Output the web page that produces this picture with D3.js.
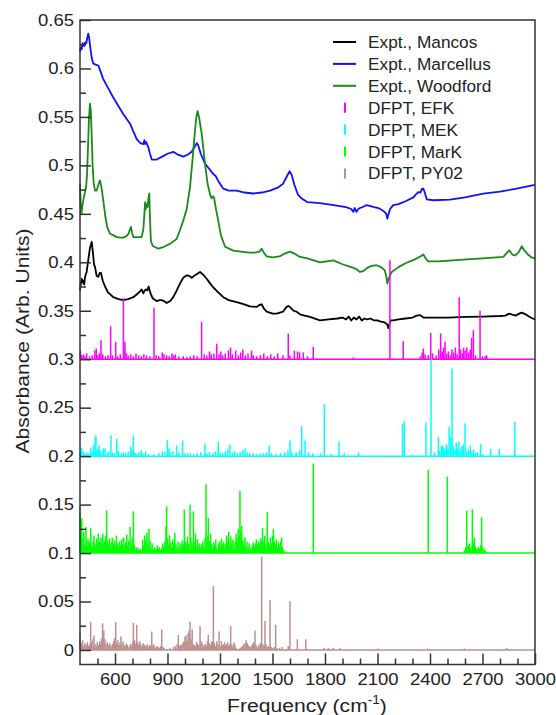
<!DOCTYPE html>
<html><head><meta charset="utf-8">
<script src="https://cdn.jsdelivr.net/npm/d3@7"></script>
<style>body{margin:0;background:#fff}svg{display:block;font-family:"Liberation Sans",Arial,sans-serif}</style>
</head><body><svg id="c" width="556" height="715"></svg>
<script>
// ---- data ----
const xTicks = [600, 900, 1200, 1500, 1800, 2100, 2400, 2700, 3000];
const xMinor = [500, 700, 800, 1000, 1100, 1300, 1400, 1600, 1700, 1900, 2000, 2200, 2300, 2500, 2600, 2800, 2900];
const yTicks = [0, 0.05, 0.1, 0.15, 0.2, 0.25, 0.3, 0.35, 0.4, 0.45, 0.5, 0.55, 0.6, 0.65];
const yTickLabels = ["0", "0.05", "0.1", "0.15", "0.2", "0.25", "0.3", "0.35", "0.4", "0.45", "0.5", "0.55", "0.6", "0.65"];
const yMinor = [0.025, 0.075, 0.125, 0.175, 0.225, 0.275, 0.325, 0.375, 0.425, 0.475, 0.525, 0.575, 0.625];

const seriesNames = ["Expt., Mancos", "Expt., Marcellus", "Expt., Woodford", "DFPT, EFK", "DFPT, MEK", "DFPT, MarK", "DFPT, PY02"];
const stickBaselines = [0.3, 0.2, 0.1, 0];

const mancos = [[400,0.371],[405,0.378],[410,0.383],[415,0.379],[419,0.381],[424,0.377],[429,0.385],[438,0.39],[447,0.402],[457,0.415],[467,0.421],[474,0.41],[480,0.398],[486,0.395],[495,0.386],[505,0.385],[512,0.389],[520,0.389],[530,0.381],[543,0.375],[560,0.369],[590,0.364],[620,0.362],[647,0.361],[675,0.362],[705,0.364],[725,0.367],[743,0.370],[752,0.372],[762,0.368],[770,0.371],[777,0.372],[785,0.371],[792,0.375],[797,0.372],[803,0.368],[815,0.363],[838,0.360],[855,0.361],[867,0.361],[880,0.36],[895,0.358],[915,0.36],[933,0.364],[950,0.37],[971,0.378],[990,0.384],[1010,0.3866],[1025,0.386],[1038,0.384],[1060,0.387],[1086,0.390],[1105,0.387],[1124,0.383],[1140,0.379],[1162,0.374],[1190,0.369],[1219,0.364],[1250,0.361],[1295,0.359],[1330,0.357],[1371,0.3546],[1410,0.354],[1425,0.356],[1438,0.3567],[1452,0.352],[1467,0.349],[1500,0.347],[1524,0.347],[1560,0.349],[1580,0.354],[1592,0.355],[1605,0.353],[1620,0.350],[1638,0.349],[1660,0.346],[1714,0.3436],[1771,0.340],[1820,0.341],[1870,0.342],[1900,0.343],[1920,0.341],[1935,0.344],[1950,0.340],[1965,0.343],[1980,0.341],[1995,0.344],[2010,0.340],[2025,0.342],[2040,0.341],[2060,0.342],[2080,0.340],[2100,0.340],[2114,0.339],[2140,0.338],[2155,0.336],[2162,0.332],[2168,0.336],[2175,0.340],[2190,0.340],[2220,0.341],[2260,0.342],[2300,0.343],[2324,0.345],[2345,0.3455],[2362,0.343],[2400,0.343],[2500,0.343],[2610,0.3436],[2700,0.344],[2800,0.3446],[2830,0.345],[2853,0.347],[2870,0.346],[2890,0.345],[2910,0.347],[2924,0.348],[2950,0.346],[2975,0.343],[3000,0.341]];

const marcellus = [[400,0.617],[405,0.622],[410,0.62],[415,0.626],[419,0.625],[424,0.623],[430,0.627],[436,0.626],[441,0.631],[447,0.636],[452,0.632],[460,0.62],[468,0.61],[476,0.605],[490,0.604],[505,0.603],[515,0.598],[533,0.589],[560,0.58],[590,0.570],[620,0.561],[647,0.553],[686,0.543],[705,0.535],[724,0.527],[745,0.523],[762,0.522],[768,0.526],[772,0.522],[778,0.524],[785,0.521],[790,0.519],[800,0.512],[810,0.506],[838,0.506],[870,0.509],[900,0.512],[933,0.514],[960,0.511],[990,0.509],[1015,0.511],[1038,0.514],[1055,0.519],[1067,0.523],[1075,0.521],[1090,0.512],[1114,0.502],[1140,0.496],[1162,0.491],[1175,0.489],[1190,0.484],[1219,0.476],[1250,0.474],[1295,0.474],[1340,0.472],[1390,0.471],[1440,0.472],[1486,0.474],[1530,0.477],[1560,0.481],[1580,0.488],[1598,0.494],[1610,0.49],[1625,0.48],[1645,0.47],[1665,0.466],[1700,0.462],[1771,0.461],[1850,0.459],[1920,0.457],[1950,0.455],[1962,0.452],[1970,0.456],[1980,0.452],[1990,0.455],[2000,0.456],[2015,0.457],[2038,0.459],[2060,0.458],[2080,0.457],[2105,0.456],[2125,0.454],[2140,0.452],[2150,0.45],[2156,0.445],[2162,0.449],[2172,0.455],[2190,0.459],[2220,0.46],[2260,0.463],[2305,0.467],[2320,0.470],[2333,0.4725],[2345,0.472],[2355,0.476],[2362,0.476],[2370,0.472],[2381,0.465],[2420,0.464],[2514,0.4646],[2600,0.467],[2705,0.4708],[2800,0.473],[2895,0.476],[2950,0.478],[3000,0.480]];

const woodford = [[400,0.481],[404,0.46],[408,0.45],[415,0.46],[422,0.467],[428,0.472],[435,0.478],[440,0.49],[446,0.52],[451,0.548],[457,0.5636],[462,0.556],[467,0.53],[472,0.5],[478,0.482],[486,0.474],[495,0.474],[505,0.48],[514,0.4845],[522,0.478],[533,0.464],[545,0.447],[556,0.436],[571,0.4295],[590,0.428],[610,0.426],[629,0.4254],[647,0.4254],[665,0.427],[676,0.429],[686,0.434],[691,0.4365],[697,0.431],[705,0.426],[730,0.426],[752,0.426],[762,0.434],[768,0.45],[772,0.462],[776,0.455],[781,0.46],[786,0.457],[791,0.466],[796,0.471],[800,0.445],[805,0.422],[815,0.417],[847,0.414],[880,0.416],[914,0.419],[952,0.424],[971,0.433],[990,0.443],[1010,0.455],[1029,0.478],[1045,0.51],[1057,0.536],[1065,0.55],[1072,0.556],[1080,0.55],[1095,0.533],[1105,0.517],[1114,0.502],[1130,0.48],[1145,0.469],[1152,0.466],[1160,0.468],[1166,0.467],[1175,0.457],[1190,0.443],[1205,0.428],[1229,0.416],[1276,0.412],[1320,0.411],[1371,0.41],[1400,0.41],[1425,0.411],[1438,0.414],[1450,0.41],[1467,0.406],[1500,0.405],[1540,0.406],[1570,0.409],[1600,0.411],[1625,0.409],[1657,0.4055],[1700,0.404],[1771,0.400],[1848,0.402],[1900,0.398],[1950,0.395],[1980,0.393],[2000,0.390],[2019,0.391],[2040,0.394],[2060,0.396],[2095,0.397],[2120,0.395],[2140,0.392],[2150,0.386],[2156,0.378],[2163,0.383],[2181,0.390],[2220,0.395],[2260,0.399],[2300,0.402],[2324,0.404],[2345,0.406],[2362,0.408],[2375,0.404],[2390,0.401],[2450,0.401],[2610,0.403],[2700,0.404],[2819,0.4055],[2835,0.409],[2853,0.4124],[2870,0.408],[2885,0.407],[2905,0.41],[2924,0.4165],[2940,0.412],[2960,0.408],[2980,0.405],[3000,0.404]];

// sticks: [frequency, intensity above the series baseline]
const efk = [[402,0.009],[410,0.004],[419,0.005],[428,0.003],[438,0.006],[455,0.003],[470,0.004],[485,0.009],[493,0.011],[502,0.004],[512,0.006],[520,0.0196],[530,0.005],[545,0.003],[560,0.004],[575,0.034],[585,0.004],[604,0.018],[615,0.003],[630,0.005],[648,0.063],[652,0.012],[657,0.018],[665,0.006],[675,0.004],[690,0.005],[705,0.003],[720,0.006],[735,0.004],[750,0.003],[765,0.005],[780,0.004],[800,0.003],[823,0.053],[835,0.004],[850,0.003],[870,0.007],[880,0.005],[895,0.004],[910,0.003],[925,0.006],[935,0.004],[945,0.005],[965,0.003],[990,0.003],[1010,0.002],[1030,0.003],[1050,0.004],[1070,0.003],[1095,0.0385],[1110,0.005],[1125,0.004],[1140,0.008],[1150,0.005],[1165,0.006],[1181,0.016],[1195,0.005],[1205,0.008],[1215,0.004],[1230,0.006],[1248,0.009],[1260,0.012],[1270,0.005],[1290,0.009],[1305,0.004],[1318,0.007],[1330,0.01],[1345,0.004],[1360,0.006],[1380,0.009],[1390,0.004],[1410,0.003],[1430,0.004],[1450,0.006],[1470,0.003],[1490,0.005],[1510,0.003],[1530,0.006],[1560,0.004],[1590,0.0265],[1600,0.004],[1625,0.009],[1643,0.008],[1655,0.007],[1676,0.007],[1700,0.003],[1733,0.0127],[1962,0.002],[2171,0.102],[2247,0.0185],[2345,0.003],[2355,0.007],[2362,0.011],[2372,0.005],[2390,0.004],[2404,0.027],[2415,0.006],[2435,0.004],[2450,0.01],[2461,0.0265],[2470,0.008],[2478,0.012],[2486,0.018],[2495,0.006],[2505,0.008],[2515,0.004],[2525,0.01],[2535,0.007],[2545,0.012],[2555,0.005],[2567,0.064],[2575,0.01],[2585,0.006],[2592,0.012],[2600,0.009],[2610,0.012],[2620,0.007],[2630,0.01],[2638,0.022],[2648,0.03],[2660,0.004],[2686,0.05],[2700,0.003],[2715,0.003],[2724,0.004]];

const mek = [[402,0.004],[410,0.0086],[418,0.005],[428,0.003],[438,0.004],[448,0.003],[460,0.008],[470,0.005],[478,0.012],[486,0.0193],[491,0.0216],[498,0.006],[505,0.008],[510,0.011],[520,0.005],[533,0.008],[543,0.008],[555,0.003],[565,0.005],[577,0.0216],[585,0.004],[595,0.003],[610,0.018],[620,0.005],[635,0.003],[648,0.004],[660,0.003],[675,0.005],[690,0.0096],[697,0.006],[705,0.0216],[712,0.004],[720,0.003],[735,0.004],[750,0.006],[760,0.003],[775,0.005],[790,0.002],[820,0.002],[850,0.003],[870,0.005],[885,0.004],[899,0.0165],[908,0.008],[915,0.004],[930,0.005],[952,0.011],[965,0.004],[986,0.016],[1000,0.003],[1015,0.003],[1030,0.003],[1050,0.002],[1070,0.003],[1090,0.004],[1114,0.013],[1125,0.003],[1140,0.004],[1160,0.003],[1175,0.005],[1190,0.0148],[1200,0.004],[1215,0.003],[1230,0.005],[1245,0.007],[1257,0.012],[1270,0.004],[1285,0.005],[1300,0.003],[1315,0.004],[1330,0.006],[1343,0.008],[1355,0.004],[1370,0.003],[1390,0.003],[1410,0.002],[1430,0.003],[1450,0.003],[1465,0.004],[1482,0.011],[1495,0.003],[1520,0.002],[1545,0.003],[1570,0.004],[1588,0.006],[1600,0.016],[1610,0.004],[1635,0.004],[1655,0.006],[1667,0.031],[1686,0.016],[1706,0.004],[1730,0.003],[1775,0.003],[1796,0.0535],[1835,0.002],[1880,0.0148],[1910,0.003],[1992,0.004],[2070,0.001],[2243,0.033],[2253,0.036],[2300,0.001],[2377,0.0344],[2406,0.1],[2425,0.004],[2448,0.02],[2455,0.006],[2465,0.01],[2470,0.011],[2478,0.009],[2485,0.007],[2493,0.012],[2500,0.008],[2509,0.03],[2518,0.02],[2526,0.0905],[2535,0.01],[2543,0.006],[2550,0.014],[2558,0.008],[2566,0.015],[2575,0.006],[2582,0.01],[2590,0.012],[2600,0.034],[2610,0.005],[2620,0.007],[2630,0.011],[2640,0.004],[2650,0.007],[2660,0.003],[2672,0.004],[2689,0.0125],[2700,0.002],[2746,0.0075],[2796,0.0075],[2884,0.035]];

const mark = [[400,0.048],[404,0.02],[410,0.036],[414,0.015],[418,0.01],[422,0.022],[427,0.008],[434,0.027],[438,0.012],[442,0.006],[446,0.015],[450,0.009],[455,0.012],[461,0.026],[466,0.008],[470,0.005],[475,0.012],[480,0.018],[485,0.01],[490,0.006],[495,0.015],[500,0.009],[505,0.02],[510,0.012],[515,0.007],[520,0.016],[525,0.01],[530,0.02],[535,0.008],[540,0.012],[546,0.018],[552,0.044],[557,0.012],[562,0.008],[568,0.015],[573,0.006],[578,0.011],[584,0.016],[590,0.009],[596,0.013],[602,0.007],[608,0.018],[614,0.01],[620,0.006],[626,0.012],[632,0.008],[638,0.014],[644,0.009],[650,0.016],[655,0.006],[661,0.011],[667,0.019],[672,0.008],[678,0.013],[686,0.027],[692,0.01],[698,0.016],[705,0.043],[711,0.008],[716,0.004],[722,0.006],[728,0.003],[734,0.005],[740,0.003],[746,0.004],[752,0.002],[758,0.014],[764,0.008],[770,0.018],[776,0.012],[782,0.021],[788,0.009],[794,0.025],[800,0.013],[806,0.006],[812,0.01],[818,0.004],[824,0.006],[830,0.003],[836,0.005],[842,0.008],[848,0.004],[854,0.006],[860,0.003],[866,0.005],[872,0.01],[878,0.007],[885,0.012],[891,0.027],[895,0.048],[900,0.015],[906,0.008],[912,0.018],[918,0.011],[924,0.006],[930,0.014],[936,0.01],[942,0.021],[948,0.009],[954,0.006],[960,0.012],[966,0.004],[972,0.01],[978,0.007],[984,0.013],[990,0.009],[996,0.045],[1002,0.012],[1008,0.008],[1014,0.017],[1020,0.01],[1029,0.05],[1034,0.016],[1040,0.01],[1048,0.043],[1054,0.012],[1060,0.02],[1066,0.008],[1072,0.014],[1078,0.006],[1084,0.01],[1090,0.005],[1096,0.009],[1102,0.012],[1108,0.007],[1114,0.015],[1120,0.071],[1127,0.018],[1133,0.036],[1140,0.012],[1146,0.02],[1152,0.009],[1158,0.005],[1164,0.011],[1170,0.008],[1176,0.014],[1182,0.005],[1190,0.009],[1196,0.012],[1202,0.006],[1208,0.015],[1214,0.009],[1220,0.012],[1226,0.006],[1232,0.01],[1238,0.018],[1244,0.012],[1250,0.022],[1256,0.009],[1262,0.017],[1268,0.01],[1274,0.014],[1280,0.007],[1286,0.012],[1292,0.02],[1298,0.015],[1304,0.025],[1309,0.018],[1314,0.064],[1319,0.022],[1324,0.028],[1330,0.013],[1336,0.009],[1342,0.016],[1348,0.007],[1354,0.012],[1360,0.005],[1366,0.01],[1372,0.006],[1378,0.004],[1384,0.008],[1390,0.011],[1396,0.006],[1402,0.01],[1408,0.014],[1414,0.008],[1420,0.012],[1426,0.009],[1432,0.015],[1438,0.011],[1443,0.026],[1449,0.012],[1455,0.018],[1461,0.009],[1470,0.042],[1476,0.012],[1482,0.008],[1488,0.016],[1494,0.01],[1500,0.018],[1505,0.025],[1510,0.012],[1516,0.009],[1522,0.014],[1528,0.006],[1534,0.011],[1540,0.008],[1546,0.012],[1552,0.016],[1558,0.006],[1564,0.003],[1733,0.0925],[2390,0.0859],[2499,0.079],[2596,0.003],[2604,0.006],[2610,0.0436],[2618,0.008],[2626,0.01],[2634,0.006],[2642,0.045],[2648,0.012],[2654,0.016],[2660,0.007],[2668,0.004],[2675,0.006],[2682,0.005],[2689,0.008],[2695,0.037],[2702,0.006],[2710,0.004],[2718,0.002]];

const py02 = [[400,0.017],[404,0.008],[410,0.006],[415,0.01],[420,0.004],[428,0.007],[435,0.005],[442,0.008],[450,0.004],[455,0.006],[461,0.029],[467,0.008],[474,0.011],[480,0.015],[486,0.006],[492,0.004],[498,0.008],[505,0.005],[512,0.009],[518,0.006],[523,0.012],[529,0.0275],[536,0.02],[542,0.011],[548,0.006],[556,0.008],[563,0.005],[570,0.007],[578,0.004],[585,0.006],[592,0.009],[598,0.012],[604,0.029],[610,0.007],[616,0.01],[622,0.005],[628,0.008],[634,0.014],[640,0.006],[646,0.009],[652,0.005],[658,0.004],[665,0.007],[672,0.005],[680,0.003],[688,0.006],[695,0.004],[700,0.008],[705,0.028],[712,0.01],[718,0.006],[724,0.026],[730,0.008],[736,0.005],[742,0.009],[748,0.006],[755,0.004],[762,0.007],[770,0.005],[778,0.004],[785,0.006],[792,0.003],[798,0.005],[804,0.004],[810,0.019],[816,0.004],[822,0.006],[828,0.003],[834,0.002],[840,0.004],[848,0.003],[855,0.002],[861,0.004],[867,0.021],[874,0.003],[880,0.002],[900,0.001],[915,0.002],[935,0.003],[945,0.004],[955,0.006],[962,0.0155],[968,0.004],[975,0.005],[982,0.006],[990,0.008],[995,0.009],[1000,0.0137],[1006,0.015],[1012,0.009],[1018,0.017],[1023,0.02],[1029,0.029],[1035,0.011],[1041,0.021],[1047,0.006],[1053,0.005],[1060,0.004],[1066,0.008],[1072,0.006],[1079,0.005],[1086,0.0247],[1092,0.009],[1098,0.007],[1104,0.003],[1110,0.005],[1116,0.006],[1122,0.004],[1128,0.009],[1133,0.0155],[1140,0.007],[1146,0.005],[1152,0.009],[1157,0.008],[1162,0.066],[1168,0.007],[1175,0.004],[1181,0.009],[1188,0.006],[1195,0.019],[1202,0.004],[1208,0.009],[1214,0.005],[1220,0.006],[1226,0.008],[1232,0.005],[1238,0.006],[1244,0.008],[1250,0.004],[1256,0.006],[1261,0.0247],[1268,0.006],[1274,0.003],[1280,0.008],[1286,0.005],[1292,0.002],[1300,0.001],[1315,0.002],[1322,0.003],[1330,0.004],[1336,0.006],[1343,0.007],[1350,0.01],[1356,0.007],[1362,0.005],[1370,0.003],[1378,0.004],[1385,0.006],[1392,0.008],[1400,0.02],[1406,0.005],[1415,0.003],[1422,0.005],[1430,0.007],[1438,0.0962],[1445,0.006],[1452,0.004],[1457,0.03],[1463,0.006],[1470,0.003],[1478,0.004],[1486,0.0515],[1492,0.003],[1500,0.002],[1510,0.003],[1518,0.0258],[1526,0.002],[1540,0.002],[1555,0.003],[1575,0.001],[1590,0.004],[1600,0.0505],[1642,0.011],[1690,0.011],[1794,0.002],[1819,0.002],[1848,0.002],[1886,0.002],[2105,0.0015],[2387,0.0015],[2396,0.001],[2596,0.0015],[2838,0.002]];

// ---- drawing ----
const svg = d3.select("#c");
const x = d3.scaleLinear().domain([400, 3000]).range([80, 535]);
const y = d3.scaleLinear().domain([-0.015, 0.65]).range([664.5, 20]);

const lineColors = ["#000000", "#1010ff", "#1a8a1a"];
const stickColors = ["#ff00ff", "#00ffff", "#00ff00", "#bc8f8f"];
const curves = [mancos, marcellus, woodford];
const sticks = [efk, mek, mark, py02];

// text stretched horizontally to the reference's wide letterforms
function stretch(sel, k) {
  sel.each(function () {
    const w = this.getComputedTextLength();
    d3.select(this).attr("textLength", w * k).attr("lengthAdjust", "spacingAndGlyphs");
  });
}

const plot = svg.append("g");
const line = d3.line().x(d => x(d[0])).y(d => y(d[1]));
curves.forEach((c, i) => {
  plot.append("path").datum(c).attr("d", line).attr("fill", "none")
    .attr("stroke", lineColors[i]).attr("stroke-width", 1.8).attr("stroke-linejoin", "round");
});
sticks.forEach((s, i) => {
  const b = stickBaselines[i];
  plot.append("line").attr("x1", x(400)).attr("x2", x(3000)).attr("y1", y(b)).attr("y2", y(b))
    .attr("stroke", stickColors[i]).attr("stroke-width", 1.5);
  plot.selectAll(null).data(s).enter().append("line")
    .attr("x1", d => x(d[0])).attr("x2", d => x(d[0]))
    .attr("y1", y(b)).attr("y2", d => y(b + d[1]))
    .attr("stroke", stickColors[i]).attr("stroke-width", 1.5);
});

// axes
const axisColor = "#333";
const fs = 16.5;
const gx = svg.append("g").attr("transform", `translate(0,${y(-0.015)})`)
  .call(d3.axisBottom(x).tickValues(xTicks).tickSizeInner(-11).tickSizeOuter(0).tickPadding(9).tickFormat(d3.format("d")));
const gxm = svg.append("g").attr("transform", `translate(0,${y(-0.015)})`)
  .call(d3.axisBottom(x).tickValues(xMinor).tickSizeInner(-6).tickSizeOuter(0).tickFormat(""));
const gy = svg.append("g").attr("transform", `translate(${x(400)},0)`)
  .call(d3.axisLeft(y).tickValues(yTicks).tickSizeInner(-11).tickSizeOuter(0).tickPadding(6).tickFormat((d, i) => yTickLabels[i]));
const gym = svg.append("g").attr("transform", `translate(${x(400)},0)`)
  .call(d3.axisLeft(y).tickValues(yMinor).tickSizeInner(-6).tickSizeOuter(0).tickFormat(""));
[gx, gxm, gy, gym].forEach(g => {
  g.select(".domain").remove();
  g.selectAll("line").attr("stroke", axisColor).attr("stroke-width", 1.5);
  g.selectAll("text").attr("font-size", fs).attr("fill", "#222").attr("font-family", "Liberation Sans, Arial, sans-serif");
});
stretch(gx.selectAll("text"), 1.12);
stretch(gy.selectAll("text"), 1.12);
svg.append("rect").attr("x", x(400)).attr("y", y(0.65)).attr("width", x(3000) - x(400)).attr("height", y(-0.015) - y(0.65))
  .attr("fill", "none").attr("stroke", axisColor).attr("stroke-width", 1.5);

// axis titles
const xt = svg.append("g").attr("transform", "translate(307,712) scale(1.14,1)")
  .append("text").attr("x", 0).attr("y", 0).attr("text-anchor", "middle")
  .attr("font-size", 18.5).attr("fill", "#222");
xt.append("tspan").text("Frequency (cm");
xt.append("tspan").attr("font-size", 12).attr("dy", -8).text("-1");
xt.append("tspan").attr("dy", 8).text(")");
svg.append("g").attr("transform", "translate(29,341) rotate(-90) scale(1.14,1)")
  .append("text").attr("x", 0).attr("y", 0).attr("text-anchor", "middle")
  .attr("font-size", 18.5).attr("fill", "#222").text("Absorbance (Arb. Units)");

// legend
const lg = svg.append("g");
seriesNames.forEach((n, i) => {
  const yy = 42 + i * 21.9;
  if (i < 3) {
    lg.append("line").attr("x1", 333).attr("x2", 356).attr("y1", yy).attr("y2", yy)
      .attr("stroke", lineColors[i]).attr("stroke-width", 2);
  } else {
    lg.append("line").attr("x1", 345).attr("x2", 345).attr("y1", yy - 5).attr("y2", yy + 5)
      .attr("stroke", stickColors[i - 3]).attr("stroke-width", 2);
  }
  lg.append("text").attr("x", 368).attr("y", yy + 6).attr("font-size", 16.3).attr("fill", "#222").text(n);
});
stretch(lg.selectAll("text"), 1.06);
</script></body></html>
